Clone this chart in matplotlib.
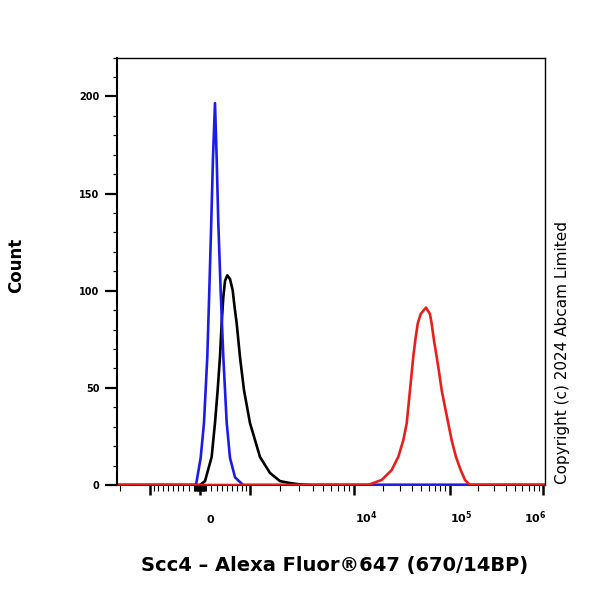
import numpy as np
import matplotlib
matplotlib.use('Agg')
import matplotlib.pyplot as plt
from matplotlib.ticker import FixedLocator, NullFormatter

# ---------------- data (fluorescence value, cell count) ----------------
blue_x = [-2200, -71, 12, 71, 130, 166, 201, 232, 269, 300, 330, 374, 424, 490, 555, 658, 835, 1.2e6]
blue_y = [0, 0, 14, 32, 66, 100, 135, 168, 196.5, 168, 135, 100, 66, 32, 14, 4, 0, 0]

black_x = [-2200, 0, 89, 208, 269, 318, 361, 393, 424, 457, 501, 555, 610, 652, 694, 766, 857,
           1002, 1275, 1595, 1982, 2454, 3038, 3770, 1.2e6]
black_y = [0, 0, 2, 14.4, 31.9, 48.8, 65.8, 83.2, 96.6, 105, 107.9, 106, 100.2, 91, 83.2, 65.8, 48.8,
           31.9, 14.4, 6.2, 2, 1, 0.3, 0, 0]

red_x = [-2200, 13966, 19290, 24500, 28700, 32370, 35140, 38070, 41230, 43280, 45880, 49320, 56130,
         61870, 64490, 68200, 72900, 77670, 82370, 89280, 96840, 105250, 116900, 131300, 145900, 165000, 1.2e6]
red_y = [0, 0, 2.6, 7.7, 14.5, 23, 31.7, 48.8, 66, 74.5, 83, 88, 91.3,
         88, 83, 74.5, 66, 57.4, 48.8, 40.2, 31.7, 23, 14.5, 7.7, 2.6, 0, 0]

x_major = [-1000, 0, 1000, 1e4, 1e5, 1e6]
x_labels = {0: '0', 1e4: r'$\mathbf{10^{4}}$', 1e5: r'$\mathbf{10^{5}}$', 1e6: r'$\mathbf{10^{6}}$'}
x_minor = ([-2000] + list(range(-900, 0, 100)) + list(range(-90, 0, 10)) + list(range(10, 100, 10))
           + list(range(100, 1000, 100)) + [k * 1000 for k in range(2, 10)]
           + [k * 10000 for k in range(2, 10)] + [k * 100000 for k in range(2, 10)])
y_major = [0, 50, 100, 150, 200]
y_labels = ['0', '50', '100', '150', '200']
y_minor = list(range(10, 221, 10))

# ---------------- biexponential (logicle-like) scale ----------------
K = 205.0
P = 2.5


def biex(u):
    u = np.asarray(u, dtype=float)
    a = np.abs(u)
    return np.sign(u) * K * (10 ** a - P ** 2 * 10 ** (-a / P) + P ** 2 - 1)


_U = np.linspace(-3, 7, 200001)
_X = biex(_U)


def fwd(x):
    return np.interp(np.asarray(x, dtype=float), _X, _U)


def inv(u):
    return biex(u)


fig = plt.figure(figsize=(6, 6), dpi=100)
ax = fig.add_axes([117 / 600, 115 / 600, 428 / 600, 427.5 / 600])
ax.set_xscale('function', functions=(fwd, inv))

ax.plot(black_x, black_y, color='black', lw=1.9, solid_joinstyle='round')
ax.plot(blue_x, blue_y, color='#1c1ce8', lw=1.9, solid_joinstyle='round')
ax.plot(red_x, red_y, color='#e8201c', lw=1.9, solid_joinstyle='round')

ax.set_xlim(biex(-0.8925), biex(3.71))
ax.set_ylim(0, 220)

ax.xaxis.set_major_locator(FixedLocator(x_major))
ax.xaxis.set_minor_locator(FixedLocator(x_minor))
ax.xaxis.set_major_formatter(NullFormatter())
ax.xaxis.set_minor_formatter(NullFormatter())
ax.tick_params(axis='x', which='major', length=7, width=1.8, direction='out', color='black')
ax.tick_params(axis='x', which='minor', length=4, width=0.8, direction='out', color='black')

ax.set_yticks(y_major)
ax.set_yticklabels(y_labels, fontsize=7, fontweight='bold', family='DejaVu Sans')
ax.yaxis.set_minor_locator(FixedLocator(y_minor))
ax.tick_params(axis='y', which='major', length=8.5, width=1.6, pad=4)
ax.tick_params(axis='y', which='minor', length=3.2, width=0.9)

offsets = {0: 10, 1e4: 13, 1e5: 12, 1e6: -8}
for v, s in x_labels.items():
    ax.annotate(s, xy=(v, 0), xycoords=ax.get_xaxis_transform(), xytext=(offsets[v], -38),
                textcoords='offset pixels', ha='center', va='baseline', fontsize=8,
                fontweight='bold', family='DejaVu Sans', annotation_clip=False)

ax.spines['left'].set_linewidth(1.5)
ax.spines['top'].set_linewidth(1.0)
ax.spines['right'].set_linewidth(1.0)
ax.spines['bottom'].set_linewidth(0.8)
ax.spines['bottom'].set_color('#5a2a30')

fig.text(16 / 600, 1 - 265.5 / 600, 'Count', rotation=90, fontsize=12, fontweight='bold',
         ha='center', va='center', family='DejaVu Sans')
fig.text(335 / 600, 1 - 565 / 600, 'Scc4 – Alexa Fluor®647 (670/14BP)', fontsize=14,
         fontweight='bold', ha='center', va='center', family='DejaVu Sans')
fig.text(563 / 600, 1 - 352 / 600, 'Copyright (c) 2024 Abcam Limited', rotation=90, fontsize=11,
         ha='center', va='center', family='DejaVu Sans')

fig.savefig('out.png', dpi=100)
